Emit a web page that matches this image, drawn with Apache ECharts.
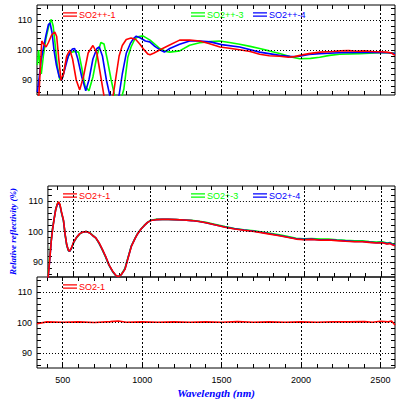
<!DOCTYPE html>
<html>
<head>
<meta charset="utf-8">
<script src="https://cdn.jsdelivr.net/npm/echarts@6/dist/echarts.min.js"></script>
<style>html,body{margin:0;padding:0;background:#fff}#c{width:399px;height:399px}</style>
</head>
<body>
<div id="c"></div>
<script>
// ---------- axis ticks ----------
const X_MIN = 338, X_MAX = 2592;
const Y_MIN = 85, Y_MAX = 115;
const xMajor = [500, 1000, 1500, 2000, 2500];
const xMinor = [400,500,600,700,800,900,1000,1100,1200,1300,1400,1500,1600,1700,1800,1900,2000,2100,2200,2300,2400,2500];
const yMajor = [90, 100, 110];
const yMinor = [86,88,90,92,94,96,98,100,102,104,106,108,110,112,114];

// ---------- panel 1 (SO2++) ----------
const wlP1Red = [340,350,360,368,380,395,410,430,450,462,475,490,505,525,545,562,585,607,630,660,690,715,740,762,790,815,835,855,875,900,930,960,985,1010,1035,1050,1075,1110,1170,1236,1300,1362,1420,1490,1550,1614,1680,1740,1800,1866,1920,1960,2000,2050,2120,2200,2250,2300,2350,2400,2450,2500,2540,2570,2592];
const p1Red   = [84,85,95,103,102,101,102.5,105,106,104.5,97,89.8,92,98,100,97,90,86.7,91,99,101.5,99,91,84,82,84,91,98,101.5,103.5,104,103.5,102,100.2,98.7,98.4,99,100,101.6,103.3,103.3,103,102.2,101,100.6,100.1,99.5,98.6,98.1,97.9,97.6,97.8,98.3,98.8,99.3,99.5,99.7,99.8,99.6,99.7,99.5,99.4,99.3,99.0,98.2];
const wlP1Green = [340,348,355,365,378,395,412,428,440,452,465,482,500,520,545,570,600,620,640,665,690,715,740,760,780,805,830,860,885,910,930,955,980,1005,1050,1090,1111,1150,1174,1236,1299,1362,1430,1488,1550,1614,1680,1740,1800,1866,1930,1992,2060,2118,2180,2244,2370,2496,2560,2592];
const p1Green   = [95,100,96,92,98,104,108,110.2,108,102,95,90,91,96,99,99.5,99.3,94,88,86.4,91,98,102.5,102,97,90,84,82,87,97.6,101,103.8,104.5,104.7,103.3,101.5,100.5,99.5,99.3,99.7,101.6,102.4,102.8,103,102.5,101.9,101.2,100.5,99.7,98.8,97.8,97.1,97.2,97.6,98.2,98.6,98.8,99.1,99.1,98.9];
const wlP1Blue = [340,352,365,380,395,410,420,432,445,460,478,494,510,535,560,575,595,620,645,665,690,715,730,750,775,800,830,855,875,900,925,945,963,990,1020,1048,1080,1111,1140,1174,1236,1299,1362,1430,1500,1614,1740,1866,1940,1992,2050,2118,2244,2350,2450,2550,2592];
const p1Blue   = [86,91,97,101,105,108.5,109,106,100,95,91,90,93,98,100.3,100.5,97,91,86.4,90,97,100.5,101,98,90,84,82,85,92,98.9,102.1,103.8,104.6,104,103,102.7,101.2,100.1,99.3,100.5,101.9,103,103,102.7,101.8,101,99.3,98.2,97.8,97.9,98.5,98.8,99.1,99.2,99.2,99.1,98.8];

// ---------- panel 2 (SO2+) ----------
const wlP2 = [338,345,352,360,368,378,388,398,407,416,426,439,450,460,470,478,490,505,523,545,565,586,610,630,649,670,690,712,735,760,780,796,815,838,860,880,905,920,943,965,985,1006,1040,1080,1120,1170,1220,1270,1320,1364,1420,1488,1550,1610,1677,1760,1841,1900,1950,2000,2050,2110,2160,2214,2270,2330,2380,2424,2470,2510,2540,2560,2575,2592];
const p2Red   = [84,88,92,97,100.5,104,107,109,109.8,109,106.5,103.8,99,95.7,94,93.5,94.5,96.5,98,99.3,99.8,100,99.5,98.6,97.9,96.3,94.3,91.9,89,86.8,85.5,85.1,85.8,87.5,91.5,95.1,97.8,99.2,100.8,102,103,103.6,103.9,104,104,103.9,103.8,103.6,103.3,102.9,102.2,101.4,100.8,100.4,100,99.3,98.6,98.0,97.5,97.3,97.4,97.1,97.2,97.0,96.8,96.6,96.6,96.4,96.2,96.3,95.9,96.0,95.6,95.3];
const p2Green = [85,89,93,97.5,101,104.2,107.2,109,109.6,108.8,106.2,103.5,98.8,95.5,93.8,93.4,94.3,96.3,97.9,99.2,99.8,100,99.6,98.7,97.8,96.1,94.1,91.6,88.8,86.6,85.4,85.1,85.9,87.8,91.8,95.3,97.9,99.3,100.8,102.1,103,103.7,104,104,104,103.9,103.8,103.7,103.4,103,102.4,101.6,101,100.6,100.2,99.6,98.9,98.3,97.8,97.6,97.7,97.5,97.5,97.3,97.1,96.9,96.9,96.7,96.5,96.6,96.2,96.4,95.9,95.7];
const p2Blue  = [84,88,92,97,100.7,104.1,107.1,108.8,109.3,108.7,106.3,103.6,98.9,95.6,93.9,93.4,94.4,96.4,98,99.3,99.8,100,99.5,98.6,97.9,96.2,94.2,91.8,88.9,86.7,85.4,85.1,85.8,87.6,91.6,95.2,97.8,99.2,100.8,102,103,103.6,103.9,104,104,103.9,103.8,103.6,103.3,102.9,102.2,101.5,100.9,100.5,100.1,99.4,98.7,98.1,97.6,97.4,97.5,97.2,97.3,97.1,96.9,96.7,96.7,96.5,96.3,96.4,96.0,96.2,95.7,95.5];

// ---------- panel 3 (SO2) ----------
const wlP3 = [338,400,500,600,700,800,850,900,1000,1100,1200,1300,1400,1500,1600,1700,1800,1900,2000,2100,2200,2300,2400,2450,2500,2550,2570,2580,2592];
const p3Red = [99.6,100.2,100.1,100.2,100.0,100.3,100.5,100.1,100.2,100.1,100.2,100.1,100.2,100.1,100.3,100.1,100.2,100.1,100.2,100.1,100.2,100.2,100.3,100.1,100.4,100.2,100.5,99.9,99.2];

// ---------- labels ----------
const namesP1 = ['SO2++-1', 'SO2++-3', 'SO2++-4'];
const namesP2 = ['SO2+-1', 'SO2+-3', 'SO2+-4'];
const namesP3 = ['SO2-1'];
const xTitle = 'Wavelength (nm)';
const yTitle = 'Relative reflectivity (%)';

const RED = '#ff0000', GREEN = '#00ff00', BLUE = '#0000ff';
const zip = (xs, ys) => xs.map((x, i) => [x, ys[i]]);

const grids = [
  {left: 37, right: 4, top: 5, height: 90},
  {left: 37, right: 4, top: 186, height: 91},
  {left: 37, right: 4, top: 277, height: 91}
];

const xAxes = [], yAxes = [];
grids.forEach((g, i) => {
  ['bottom', 'top'].forEach(pos => {
    const isMain = pos === 'bottom';
    xAxes.push({
      gridIndex: i, type: 'value', min: X_MIN, max: X_MAX, position: pos,
      axisLine: {show: false},
      axisTick: {show: true, inside: true, length: 4, customValues: xMinor, lineStyle: {color: '#000', width: 1}},
      axisLabel: {show: isMain && i === 2, customValues: xMajor, fontSize: 9, color: '#000', margin: 7,
                  fontFamily: 'Liberation Sans', formatter: v => String(v)},
      splitLine: {show: false},
      name: (isMain && i === 2) ? xTitle : '',
      nameLocation: 'middle', nameGap: 19,
      nameTextStyle: {color: BLUE, fontSize: 11, fontWeight: 'bold', fontStyle: 'italic', fontFamily: 'Liberation Serif'}
    });
  });
  ['left', 'right'].forEach(pos => {
    const isMain = pos === 'left';
    yAxes.push({
      gridIndex: i, type: 'value', min: Y_MIN, max: Y_MAX, position: pos,
      axisLine: {show: false},
      axisTick: {show: true, inside: true, length: 4, customValues: yMinor, lineStyle: {color: '#000', width: 1}},
      axisLabel: {show: isMain, customValues: yMajor, fontSize: 9, color: '#000', margin: 5,
                  fontFamily: 'Liberation Sans', formatter: v => String(v)},
      splitLine: {show: false},
      name: (isMain && i === 1) ? yTitle : '',
      nameLocation: 'middle', nameGap: 25,
      nameTextStyle: {color: BLUE, fontSize: 9, fontWeight: 'bold', fontStyle: 'italic', fontFamily: 'Liberation Serif'}
    });
  });
});

const gridLines = {
  silent: true, symbol: 'none', animation: false,
  label: {show: false},
  data: [
    ...xMajor.map(v => ({xAxis: v, lineStyle: {type: [2, 2], color: '#000', width: 1}})),
    ...yMajor.map(v => ({yAxis: v, lineStyle: {type: [1, 2], color: '#000', width: 1}}))
  ]
};

function line(name, color, data, gi, withGrid) {
  const s = {
    name, type: 'line', data, xAxisIndex: gi * 2, yAxisIndex: gi * 2,
    showSymbol: false, symbol: 'none', smooth: false,
    lineStyle: {color, width: 1.6}, itemStyle: {color},
    emphasis: {disabled: true}, z: 3
  };
  if (withGrid) s.markLine = gridLines;
  return s;
}

const series = [
  line(namesP1[1], GREEN, zip(wlP1Green, p1Green), 0, true),
  line(namesP1[2], BLUE, zip(wlP1Blue, p1Blue), 0, false),
  line(namesP1[0], RED, zip(wlP1Red, p1Red), 0, false),
  line(namesP2[1], GREEN, zip(wlP2, p2Green), 1, true),
  line(namesP2[2], BLUE, zip(wlP2, p2Blue), 1, false),
  line(namesP2[0], RED, zip(wlP2, p2Red), 1, false),
  line(namesP3[0], RED, zip(wlP3, p3Red), 2, true)
];

const ICON = 'path://M0,0L15,0L15,1.5L0,1.5Z M0,3.5L15,3.5L15,5L0,5Z';
function leg(name, color, left, top) {
  return {
    data: [name], left, top, padding: 0, icon: ICON, itemWidth: 14, itemHeight: 5,
    selectedMode: false,
    textStyle: {color, fontSize: 9, fontFamily: 'Liberation Sans', padding: [0, 0, 0, -3]}
  };
}
const legends = [
  leg(namesP1[0], RED, 63, 10), leg(namesP1[1], GREEN, 191, 10), leg(namesP1[2], BLUE, 253, 10),
  leg(namesP2[0], RED, 63, 191), leg(namesP2[1], GREEN, 191, 191), leg(namesP2[2], BLUE, 253, 191),
  leg(namesP3[0], RED, 63, 282)
];

const chart = echarts.init(document.getElementById('c'), null, {renderer: 'svg'});
chart.setOption({
  animation: false,
  backgroundColor: '#fff',
  textStyle: {fontFamily: 'Liberation Sans'},
  grid: grids.map(g => Object.assign({show: true, borderColor: '#000', borderWidth: 1, backgroundColor: 'transparent'}, g)),
  xAxis: xAxes,
  yAxis: yAxes,
  legend: legends,
  series
});
</script>
</body>
</html>
